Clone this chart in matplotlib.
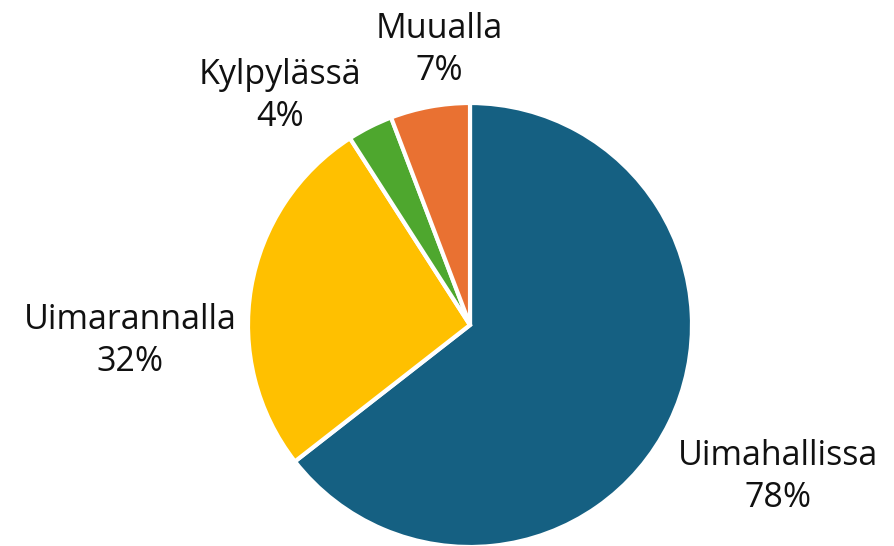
import matplotlib.pyplot as plt

labels = ["Uimahallissa", "Uimarannalla", "Kylpylässä", "Muualla"]
values = [78, 32, 4, 7]
colors = ["#156082", "#FFC000", "#4EA72E", "#E97132"]

# label anchor points (in pie-radius units)
label_pos = [(1.387, -0.685), (-1.532, -0.072), (-0.855, 1.032), (-0.14, 1.239)]

plt.rcParams["font.family"] = ["Open Sans", "DejaVu Sans"]

fig = plt.figure(figsize=(8.94, 5.46), dpi=100)
ax = fig.add_axes([0, 0, 1, 1])

ax.pie(
    values,
    colors=colors,
    startangle=90,
    counterclock=False,
    radius=1.0,
    wedgeprops=dict(edgecolor="white", linewidth=3),
)

for lab, val, (x, y) in zip(labels, values, label_pos):
    ax.text(x, y, f"{lab}\n{val}%", ha="center", va="center",
            fontsize=24.5, color="#111111", linespacing=1.32)

ax.set_xlim(-470 / 222, (894 - 470) / 222)
ax.set_ylim(-(546 - 325) / 222, 325 / 222)
ax.set_aspect("equal")
ax.axis("off")

fig.savefig("out.png", dpi=100)
